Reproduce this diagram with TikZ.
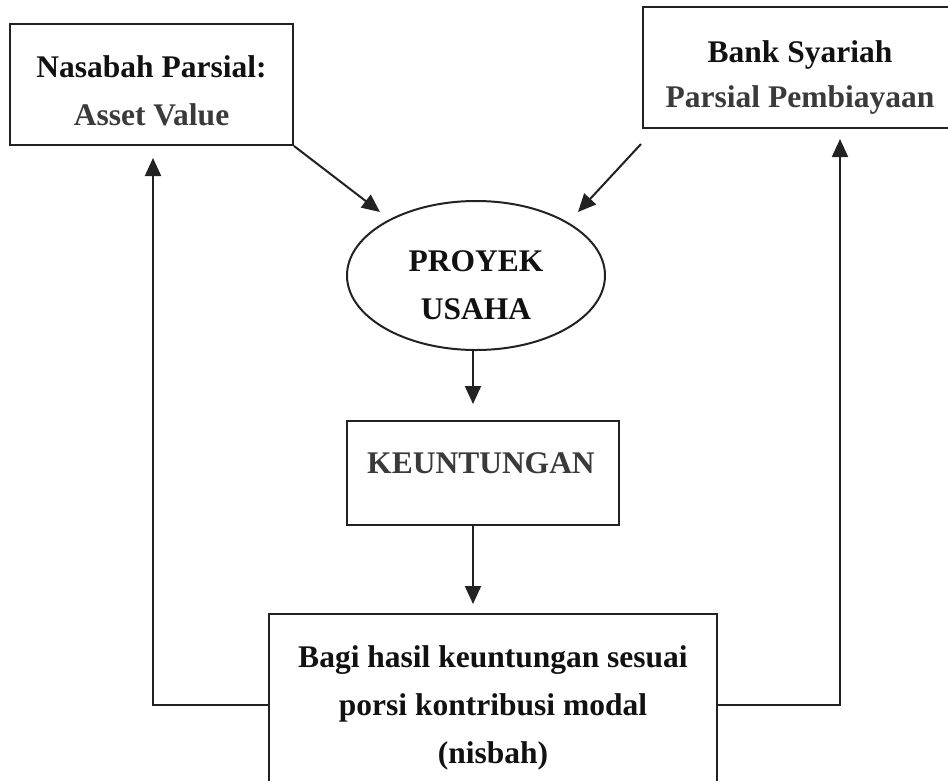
\documentclass[tikz,border=0pt]{standalone}
\usepackage{fontspec}
\setmainfont{Liberation Serif}
\usetikzlibrary{arrows.meta,shapes.geometric}
\definecolor{ln}{HTML}{222222}
\definecolor{tx1}{HTML}{111111}
\definecolor{tx2}{HTML}{3A3A3A}
\begin{document}
\begin{tikzpicture}[x=1pt,y=-1pt,
  boxshape/.style={draw=ln,line width=2pt,rectangle,inner sep=0pt},
  lbl/.style={anchor=base,inner sep=0pt,font=\fontsize{31.5}{38}\selectfont\bfseries},
  arr/.style={draw=ln,line width=2pt,-{Triangle[length=18pt,width=16pt]}},
  ln2/.style={draw=ln,line width=2pt}]
\useasboundingbox (0,0) rectangle (948,780);
\fill[white] (0,0) rectangle (948,780);
% boxes
\node[boxshape,minimum width=283pt,minimum height=121pt] (nas) at (151.5,84.5) {};
\node[boxshape,minimum width=320pt,minimum height=121pt] (bank) at (803,67.5) {};
\node[draw=ln,line width=2pt,ellipse,minimum width=258pt,minimum height=149pt,inner sep=0pt] (proy) at (476,275.5) {};
\node[boxshape,minimum width=272pt,minimum height=104pt] (keu) at (483,473) {};
\node[boxshape,minimum width=448pt,minimum height=200pt] (bagi) at (493,714) {};
% texts
\node[lbl,text=tx1] (t1) at (151.5,77) {Nasabah Parsial:};
\node[lbl,text=tx2] (t2) at (151.5,125) {Asset Value};
\node[lbl,text=tx1] (t3) at (800,62) {Bank Syariah};
\node[lbl,text=tx2] (t4) at (800,107) {Parsial Pembiayaan};
\node[lbl,text=tx1] (t5) at (476,271) {PROYEK};
\node[lbl,text=tx1] (t6) at (476,319) {USAHA};
\node[lbl,text=tx2] (t7) at (481,473) {KEUNTUNGAN};
\node[lbl,text=tx1] (t8) at (493,667) {Bagi hasil keuntungan sesuai};
\node[lbl,text=tx1] (t9) at (493,715) {porsi kontribusi modal};
\node[lbl,text=tx1] (t10) at (493,763) {(nisbah)};
% connector points
\coordinate (a1) at (380,212);
\coordinate (b0) at (641,144);
\coordinate (b1) at (578,212);
\coordinate (e0) at (473,350);
\coordinate (e1) at (473,404);
\coordinate (k0) at (473,525);
\coordinate (k1) at (473,604);
\coordinate (lc) at (153,705);
\coordinate (lt) at (153,158);
\coordinate (rc) at (840,705);
\coordinate (rt) at (840,139);
% connectors
\draw[arr] (nas.south east) -- (a1);
\draw[arr] (b0) -- (b1);
\draw[arr] (e0) -- (e1);
\draw[arr] (k0) -- (k1);
\draw[arr] (bagi.west |- lc) -- (lc) -- (lt);
\draw[arr] (bagi.east |- rc) -- (rc) -- (rt);
\end{tikzpicture}
\end{document}
